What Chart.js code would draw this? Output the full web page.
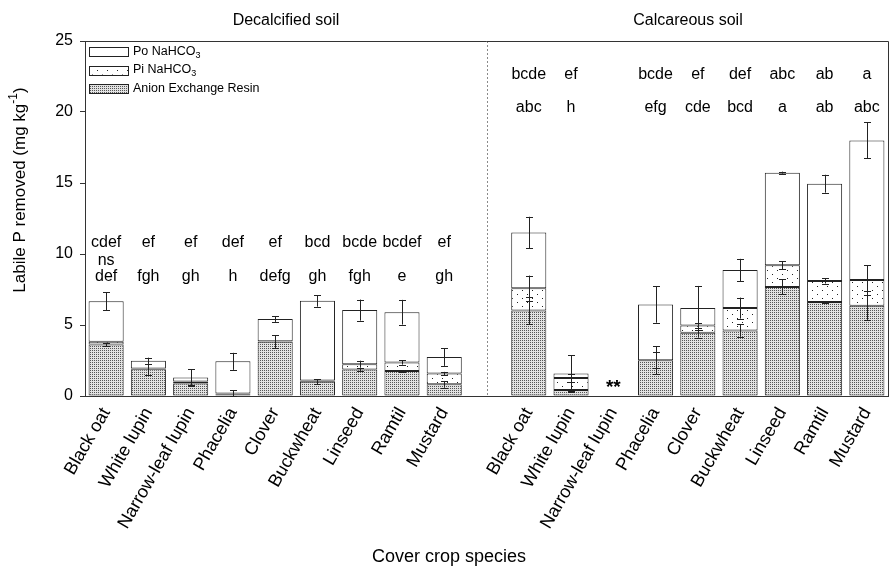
<!DOCTYPE html>
<html>
<head>
<meta charset="utf-8">
<script src="https://cdn.jsdelivr.net/npm/chart.js@4.4.1/dist/chart.umd.min.js"></script>
<style>
  html, body { margin: 0; padding: 0; background: #fff; }
  #wrap { width: 890px; height: 567px; }
</style>
</head>
<body>
<div id="wrap"><canvas id="chart" width="890" height="567"></canvas></div>
<script>
// Cover crops, decalcified soil then calcareous soil (empty slot between)
const labels = ['Black oat', 'White lupin', 'Narrow-leaf lupin', 'Phacelia', 'Clover', 'Buckwheat', 'Linseed', 'Ramtil', 'Mustard', '',
                'Black oat', 'White lupin', 'Narrow-leaf lupin', 'Phacelia', 'Clover', 'Buckwheat', 'Linseed', 'Ramtil', 'Mustard'];

// Stacked fractions (mg kg-1)
const resin = [3.62, 1.88, 0.88, 0.12, 3.82, 1.00, 1.86, 1.76, 0.82, null, 6.02, 0.42, null, 2.52, 4.46, 4.62, 7.68, 6.62, 6.36];
const piNa  = [0.20, 0.05, 0.14, 0.06, 0.04, 0.10, 0.38, 0.60, 0.76, null, 1.56, 0.85, null, 0.00, 0.51, 1.57, 1.53, 1.48, 1.81];
const poNa  = [2.85, 0.55, 0.28, 2.26, 1.56, 5.60, 3.81, 3.54, 1.17, null, 3.94, 0.31, null, 3.92, 1.22, 2.69, 6.52, 6.85, 9.83];

// Error bars (half width), drawn at the top of each cumulative fraction
const errResin = [0.12, 0.40, 0.10, 0.30, 0.45, 0.18, 0.10, 0.05, 0.24, null, 0.95, 0.10, null, 1.00, 0.35, 0.43, 0.53, 0.05, 1.00];
const errPi    = [0, 0, 0, 0, 0, 0, 0.25, 0.15, 0.12, null, 0.90, 0.25, null, 0.58, 0.15, 0.74, 0.27, 0.18, 1.05];
const errPo    = [0.64, 0.22, 0.60, 0.60, 0.20, 0.41, 0.74, 0.87, 0.63, null, 1.10, 1.30, null, 1.28, 1.56, 0.78, 0.07, 0.63, 1.27];

// Significance letters
const lettersTop = ['cdef', 'ef', 'ef', 'def', 'ef', 'bcd', 'bcde', 'bcdef', 'ef', '', 'bcde', 'ef', '', 'bcde', 'ef', 'def', 'abc', 'ab', 'a'];
const lettersBottom = ['def', 'fgh', 'gh', 'h', 'defg', 'gh', 'fgh', 'e', 'gh', '', 'abc', 'h', '', 'efg', 'cde', 'bcd', 'a', 'ab', 'abc'];
const lettersMid = ['ns', '', '', '', '', '', '', '', '', '', '', '', '', '', '', '', '', '', ''];
const missing = ['', '', '', '', '', '', '', '', '', '', '', '', '**', '', '', '', '', '', ''];

const yTicks = [0, 5, 10, 15, 20, 25];

const FONT = '"Liberation Sans", Arial, Helvetica, sans-serif';

function makePattern(w, h, bg, dots, color) {
    const c = document.createElement('canvas');
    c.width = w; c.height = h;
    const g = c.getContext('2d');
    g.fillStyle = bg;
    g.fillRect(0, 0, w, h);
    g.fillStyle = color;
    dots.forEach(d => g.fillRect(d[0], d[1], 1, 1));
    return document.getElementById('chart').getContext('2d').createPattern(c, 'repeat');
}

const resinFill = makePattern(2, 2, '#e2e2e2', [[0, 0]], '#555555');
const piFill = makePattern(10, 8, '#ffffff', [[2, 2], [7, 6]], '#222222');

// text with sub/superscript parts: [[text, 'n'|'sub'|'sup'], ...]
function richText(ctx, parts, x, y, size, align) {
    let total = 0;
    parts.forEach(p => {
        ctx.font = (p[1] === 'n' ? size : Math.round(size * 0.7)) + 'px ' + FONT;
        total += ctx.measureText(p[0]).width;
    });
    let cx = align === 'center' ? x - total / 2 : x;
    ctx.textAlign = 'left';
    ctx.textBaseline = 'middle';
    parts.forEach(p => {
        const s = p[1] === 'n' ? size : Math.round(size * 0.7);
        ctx.font = s + 'px ' + FONT;
        let dy = 0;
        if (p[1] === 'sub') dy = size * 0.3;
        if (p[1] === 'sup') dy = -size * 0.35;
        ctx.fillText(p[0], cx, y + dy);
        cx += ctx.measureText(p[0]).width;
    });
}

const decorations = {
    id: 'decorations',
    beforeDatasetsDraw(chart) {
        const ctx = chart.ctx, x = chart.scales.x, a = chart.chartArea;
        // dotted divider between the two soils
        const xd = Math.round(x.getPixelForValue(9)) + 0.5;
        ctx.save();
        ctx.strokeStyle = '#8a8a8a';
        ctx.lineWidth = 1;
        ctx.setLineDash([2, 2]);
        ctx.beginPath();
        ctx.moveTo(xd, a.top);
        ctx.lineTo(xd, a.bottom);
        ctx.stroke();
        ctx.restore();
    },
    afterDatasetsDraw(chart) {
        const ctx = chart.ctx, x = chart.scales.x, y = chart.scales.y, a = chart.chartArea;
        ctx.save();

        // error bars
        ctx.strokeStyle = '#222';
        ctx.lineWidth = 1;
        function errBar(i, v, e) {
            if (v == null || !e) return;
            const px = Math.round(x.getPixelForValue(i)) + 0.5;
            const y1 = y.getPixelForValue(v + e), y2 = y.getPixelForValue(Math.max(0, v - e));
            ctx.beginPath();
            ctx.moveTo(px, y1); ctx.lineTo(px, y2);
            ctx.moveTo(px - 3.5, Math.round(y1) + 0.5); ctx.lineTo(px + 3.5, Math.round(y1) + 0.5);
            ctx.moveTo(px - 3.5, Math.round(y2) + 0.5); ctx.lineTo(px + 3.5, Math.round(y2) + 0.5);
            ctx.stroke();
        }
        labels.forEach((l, i) => {
            if (resin[i] == null) return;
            errBar(i, resin[i], errResin[i]);
            errBar(i, resin[i] + piNa[i], errPi[i]);
            errBar(i, resin[i] + piNa[i] + poNa[i], errPo[i]);
        });

        // frame top and right
        ctx.strokeStyle = '#333';
        ctx.beginPath();
        ctx.moveTo(a.left, Math.round(a.top) + 0.5);
        ctx.lineTo(Math.round(a.right) + 0.5, Math.round(a.top) + 0.5);
        ctx.lineTo(Math.round(a.right) + 0.5, a.bottom);
        ctx.stroke();

        // letters
        ctx.fillStyle = '#000';
        ctx.textAlign = 'center';
        ctx.textBaseline = 'middle';
        labels.forEach((l, i) => {
            const px = x.getPixelForValue(i);
            const calc = i > 9;
            ctx.font = '16px ' + FONT;
            ctx.fillText(lettersTop[i], px, y.getPixelForValue(calc ? 22.6 : 10.78));
            ctx.fillText(lettersMid[i], px, y.getPixelForValue(9.55));
            ctx.fillText(lettersBottom[i], px, y.getPixelForValue(calc ? 20.3 : 8.38));
            // missing narrow-leaf lupin on calcareous soil
            ctx.font = 'bold 19px ' + FONT;
            ctx.fillText(missing[i], px, y.getPixelForValue(0.55));
        });

        // panel titles
        ctx.font = '16px ' + FONT;
        ctx.fillText('Decalcified soil', 286, 21);
        ctx.fillText('Calcareous soil', 688, 21);

        // axis titles
        ctx.font = '18px ' + FONT;
        ctx.fillText('Cover crop species', 449, 557);
        ctx.save();
        ctx.translate(20, 190);
        ctx.rotate(-Math.PI / 2);
        richText(ctx, [['Labile P removed (mg kg', 'n'], ['-1', 'sup'], [')', 'n']], 0, 0, 17, 'center');
        ctx.restore();

        // legend
        const items = [
            ['#ffffff', [['Po NaHCO', 'n'], ['3', 'sub']]],
            [piFill, [['Pi NaHCO', 'n'], ['3', 'sub']]],
            [resinFill, [['Anion Exchange Resin', 'n']]]
        ];
        items.forEach((it, k) => {
            const by = 47 + k * 18.5;
            ctx.fillStyle = it[0];
            ctx.fillRect(89, by, 39, 9);
            ctx.strokeStyle = '#222';
            ctx.strokeRect(89.5, Math.round(by) + 0.5, 39, 9);
            ctx.fillStyle = '#000';
            richText(ctx, it[1], 133, by + 4.5, 12.5, 'left');
        });

        ctx.restore();
    }
};

const common = {
    borderColor: '#222',
    borderWidth: 1,
    borderSkipped: false,
    barPercentage: 0.83,
    categoryPercentage: 1.0
};

new Chart(document.getElementById('chart'), {
    type: 'bar',
    data: {
        labels: labels,
        datasets: [
            Object.assign({ label: 'Anion Exchange Resin', data: resin, backgroundColor: resinFill }, common),
            Object.assign({ label: 'Pi NaHCO3', data: piNa, backgroundColor: piFill }, common),
            Object.assign({ label: 'Po NaHCO3', data: poNa, backgroundColor: '#ffffff' }, common)
        ]
    },
    options: {
        responsive: false,
        animation: false,
        devicePixelRatio: 1,
        layout: { padding: { top: 41, right: 2, left: 0, bottom: 0 } },
        plugins: {
            legend: { display: false },
            tooltip: { enabled: false }
        },
        scales: {
            x: {
                stacked: true,
                afterFit: s => { s.height = 171; s.paddingRight = 0; s.paddingLeft = 0; },
                grid: { display: false, drawTicks: false },
                border: { display: true, color: '#333', width: 1 },
                ticks: {
                    autoSkip: false,
                    minRotation: 60,
                    maxRotation: 60,
                    padding: 8,
                    color: '#000',
                    font: { family: FONT, size: 18 }
                }
            },
            y: {
                stacked: true,
                min: 0,
                max: 25,
                afterFit: s => { s.width = 85; },
                afterBuildTicks: s => { s.ticks = yTicks.map(v => ({ value: v })); },
                grid: { drawOnChartArea: false, drawTicks: true, tickLength: 5, color: '#333' },
                border: { display: true, color: '#333', width: 1 },
                ticks: {
                    padding: 7,
                    color: '#000',
                    font: { family: FONT, size: 16 }
                }
            }
        }
    },
    plugins: [decorations]
});
</script>
</body>
</html>
